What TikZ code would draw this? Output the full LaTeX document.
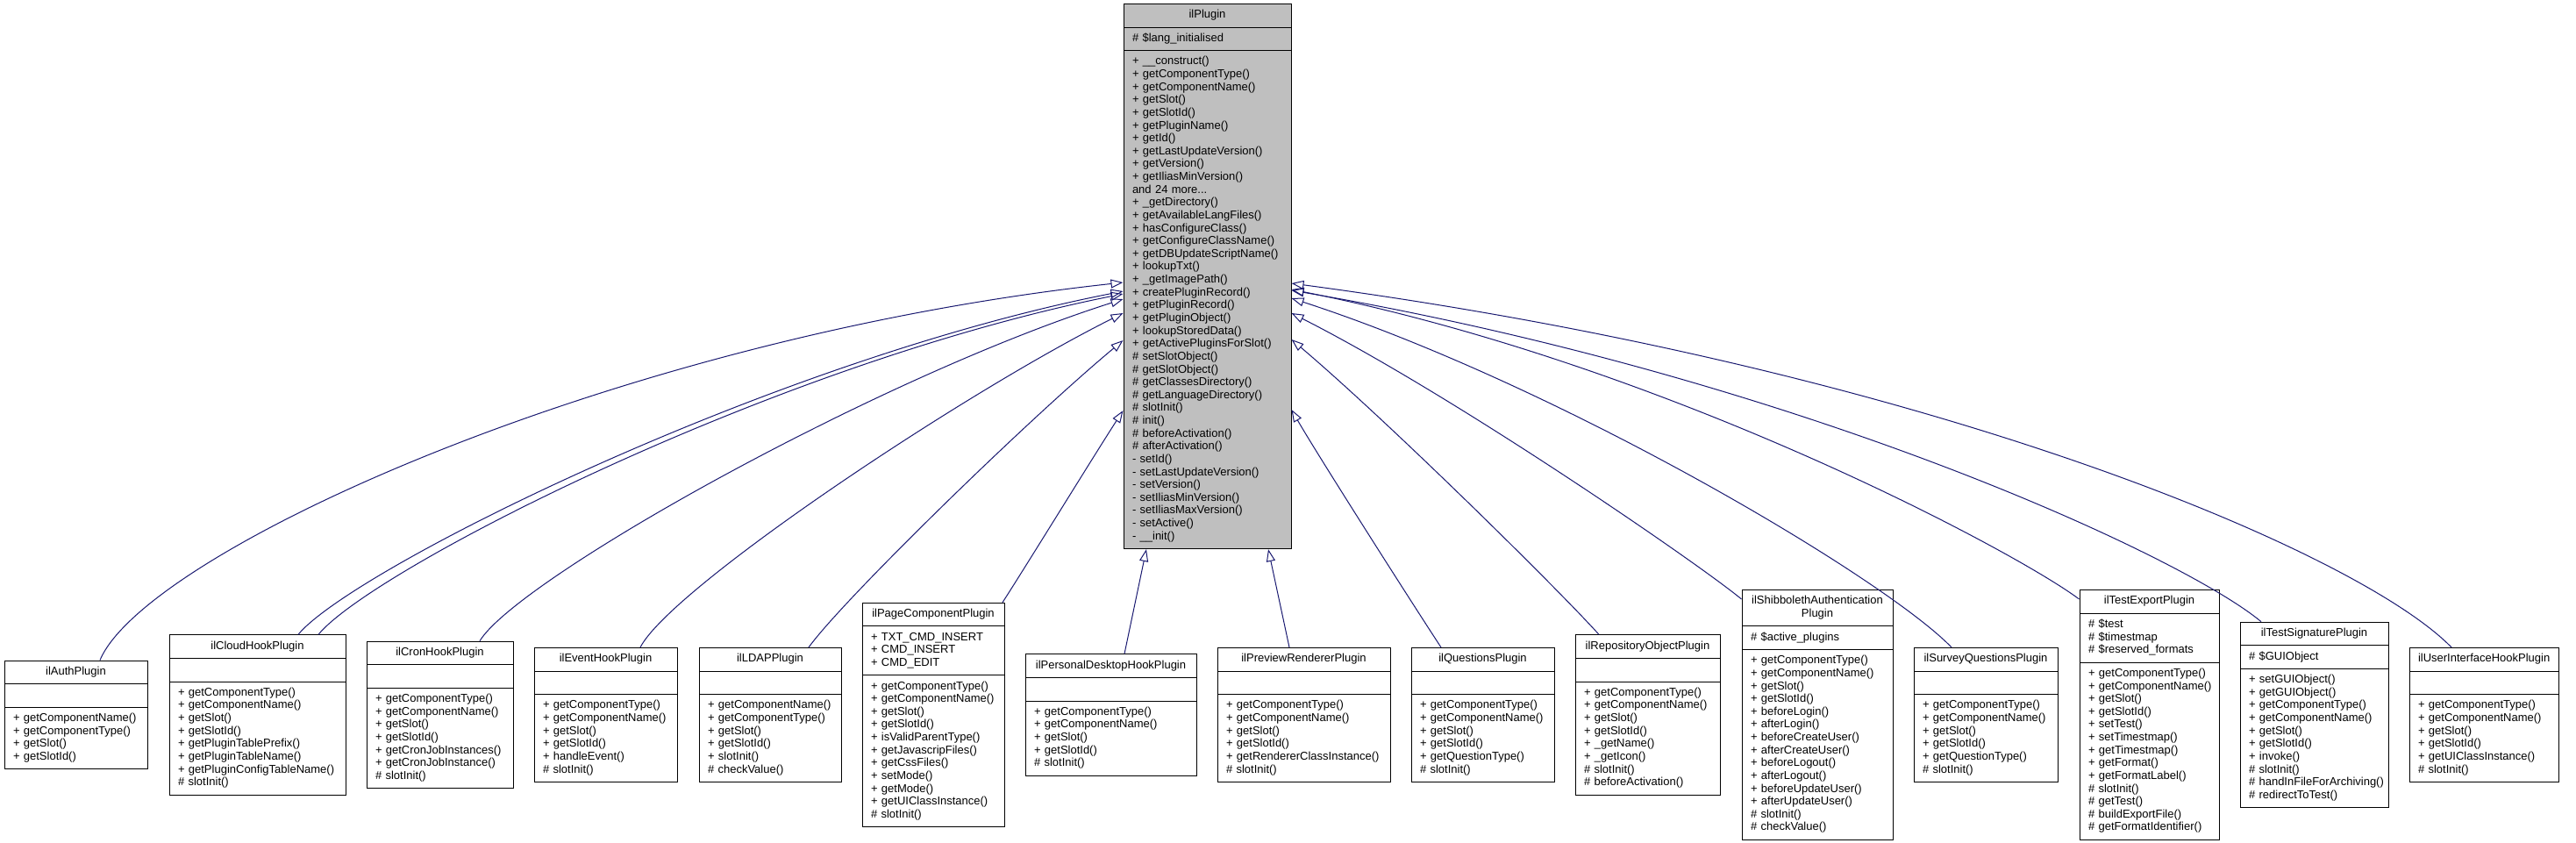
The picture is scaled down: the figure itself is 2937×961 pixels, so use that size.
\documentclass[tikz,border=0pt]{standalone}
\usepackage{fontspec}
\setmainfont{Liberation Sans}
\usetikzlibrary{shapes.multipart,arrows.meta}
\definecolor{edgeblue}{HTML}{191970}
\newcommand{\mem}[1]{\noindent\strut\mbox{#1}\par}

\begin{document}
\begin{tikzpicture}[x=1pt,y=-1pt,
	umlclass/.style={rectangle split, rectangle split parts=3, draw=black, line width=1pt, fill=white,
		inner xsep=10pt, inner ysep=5.5pt, align=left, font=\fontsize{13}{14.63}\selectfont},
	inherit/.style={draw=edgeblue, line width=1pt, -{Triangle[open,length=14pt,width=10pt]}}]
	\useasboundingbox (0,0) rectangle (2937,961);

	% base class
	\node[umlclass, text width=171pt, fill=black!25] (plugin) at (1376.5,315){\centering\mem{ilPlugin}
		\nodepart{two}\mem{\# \$lang\_initialised}
		\nodepart{three}\mem{+ \_\_construct()}\mem{+ getComponentType()}\mem{+ getComponentName()}\mem{+ getSlot()}\mem{+ getSlotId()}\mem{+ getPluginName()}\mem{+ getId()}\mem{+ getLastUpdateVersion()}\mem{+ getVersion()}\mem{+ getIliasMinVersion()}\mem{and 24 more...}\mem{+ \_getDirectory()}\mem{+ getAvailableLangFiles()}\mem{+ hasConfigureClass()}\mem{+ getConfigureClassName()}\mem{+ getDBUpdateScriptName()}\mem{+ lookupTxt()}\mem{+ \_getImagePath()}\mem{+ createPluginRecord()}\mem{+ getPluginRecord()}\mem{+ getPluginObject()}\mem{+ lookupStoredData()}\mem{+ getActivePluginsForSlot()}\mem{\# setSlotObject()}\mem{\# getSlotObject()}\mem{\# getClassesDirectory()}\mem{\# getLanguageDirectory()}\mem{\# slotInit()}\mem{\# init()}\mem{\# beforeActivation()}\mem{\# afterActivation()}\mem{- setId()}\mem{- setLastUpdateVersion()}\mem{- setVersion()}\mem{- setIliasMinVersion()}\mem{- setIliasMaxVersion()}\mem{- setActive()}\mem{- \_\_init()}};

	% derived classes
	\node[umlclass, text width=143pt] (auth) at (86.5,815){\centering\mem{ilAuthPlugin}
		\nodepart{two}\mem{}
		\nodepart{three}\mem{+ getComponentName()}\mem{+ getComponentType()}\mem{+ getSlot()}\mem{+ getSlotId()}};
	\node[umlclass, text width=181pt] (cloud) at (293.5,815){\centering\mem{ilCloudHookPlugin}
		\nodepart{two}\mem{}
		\nodepart{three}\mem{+ getComponentType()}\mem{+ getComponentName()}\mem{+ getSlot()}\mem{+ getSlotId()}\mem{+ getPluginTablePrefix()}\mem{+ getPluginTableName()}\mem{+ getPluginConfigTableName()}\mem{\# slotInit()}};
	\node[umlclass, text width=147pt] (cron) at (501.5,815){\centering\mem{ilCronHookPlugin}
		\nodepart{two}\mem{}
		\nodepart{three}\mem{+ getComponentType()}\mem{+ getComponentName()}\mem{+ getSlot()}\mem{+ getSlotId()}\mem{+ getCronJobInstances()}\mem{+ getCronJobInstance()}\mem{\# slotInit()}};
	\node[umlclass, text width=143pt] (event) at (690.5,815){\centering\mem{ilEventHookPlugin}
		\nodepart{two}\mem{}
		\nodepart{three}\mem{+ getComponentType()}\mem{+ getComponentName()}\mem{+ getSlot()}\mem{+ getSlotId()}\mem{+ handleEvent()}\mem{\# slotInit()}};
	\node[umlclass, text width=142pt] (ldap) at (878,815){\centering\mem{ilLDAPPlugin}
		\nodepart{two}\mem{}
		\nodepart{three}\mem{+ getComponentName()}\mem{+ getComponentType()}\mem{+ getSlot()}\mem{+ getSlotId()}\mem{+ slotInit()}\mem{\# checkValue()}};
	\node[umlclass, text width=142pt] (page) at (1064,815){\centering\mem{ilPageComponentPlugin}
		\nodepart{two}\mem{+ TXT\_CMD\_INSERT}\mem{+ CMD\_INSERT}\mem{+ CMD\_EDIT}
		\nodepart{three}\mem{+ getComponentType()}\mem{+ getComponentName()}\mem{+ getSlot()}\mem{+ getSlotId()}\mem{+ isValidParentType()}\mem{+ getJavascripFiles()}\mem{+ getCssFiles()}\mem{+ setMode()}\mem{+ getMode()}\mem{+ getUIClassInstance()}\mem{\# slotInit()}};
	\node[umlclass, text width=175pt] (desktop) at (1266.5,815){\centering\mem{ilPersonalDesktopHookPlugin}
		\nodepart{two}\mem{}
		\nodepart{three}\mem{+ getComponentType()}\mem{+ getComponentName()}\mem{+ getSlot()}\mem{+ getSlotId()}\mem{\# slotInit()}};
	\node[umlclass, text width=177pt] (preview) at (1486.5,815){\centering\mem{ilPreviewRendererPlugin}
		\nodepart{two}\mem{}
		\nodepart{three}\mem{+ getComponentType()}\mem{+ getComponentName()}\mem{+ getSlot()}\mem{+ getSlotId()}\mem{+ getRendererClassInstance()}\mem{\# slotInit()}};
	\node[umlclass, text width=143pt] (questions) at (1690.5,815){\centering\mem{ilQuestionsPlugin}
		\nodepart{two}\mem{}
		\nodepart{three}\mem{+ getComponentType()}\mem{+ getComponentName()}\mem{+ getSlot()}\mem{+ getSlotId()}\mem{+ getQuestionType()}\mem{\# slotInit()}};
	\node[umlclass, text width=145pt] (repo) at (1878.5,815){\centering\mem{ilRepositoryObjectPlugin}
		\nodepart{two}\mem{}
		\nodepart{three}\mem{+ getComponentType()}\mem{+ getComponentName()}\mem{+ getSlot()}\mem{+ getSlotId()}\mem{+ \_getName()}\mem{+ \_getIcon()}\mem{\# slotInit()}\mem{\# beforeActivation()}};
	\node[umlclass, text width=152pt] (shib) at (2072,815){\centering\mem{ilShibbolethAuthentication}\mem{Plugin}
		\nodepart{two}\mem{\# \$active\_plugins}
		\nodepart{three}\mem{+ getComponentType()}\mem{+ getComponentName()}\mem{+ getSlot()}\mem{+ getSlotId()}\mem{+ beforeLogin()}\mem{+ afterLogin()}\mem{+ beforeCreateUser()}\mem{+ afterCreateUser()}\mem{+ beforeLogout()}\mem{+ afterLogout()}\mem{+ beforeUpdateUser()}\mem{+ afterUpdateUser()}\mem{\# slotInit()}\mem{\# checkValue()}};
	\node[umlclass, text width=144pt] (survey) at (2264,815){\centering\mem{ilSurveyQuestionsPlugin}
		\nodepart{two}\mem{}
		\nodepart{three}\mem{+ getComponentType()}\mem{+ getComponentName()}\mem{+ getSlot()}\mem{+ getSlotId()}\mem{+ getQuestionType()}\mem{\# slotInit()}};
	\node[umlclass, text width=139pt] (export) at (2450.5,815){\centering\mem{ilTestExportPlugin}
		\nodepart{two}\mem{\# \$test}\mem{\# \$timestmap}\mem{\# \$reserved\_formats}
		\nodepart{three}\mem{+ getComponentType()}\mem{+ getComponentName()}\mem{+ getSlot()}\mem{+ getSlotId()}\mem{+ setTest()}\mem{+ setTimestmap()}\mem{+ getTimestmap()}\mem{+ getFormat()}\mem{+ getFormatLabel()}\mem{\# slotInit()}\mem{\# getTest()}\mem{\# buildExportFile()}\mem{\# getFormatIdentifier()}};
	\node[umlclass, text width=149pt] (signature) at (2638.5,815){\centering\mem{ilTestSignaturePlugin}
		\nodepart{two}\mem{\# \$GUIObject}
		\nodepart{three}\mem{+ setGUIObject()}\mem{+ getGUIObject()}\mem{+ getComponentType()}\mem{+ getComponentName()}\mem{+ getSlot()}\mem{+ getSlotId()}\mem{+ invoke()}\mem{\# slotInit()}\mem{\# handInFileForArchiving()}\mem{\# redirectToTest()}};
	\node[umlclass, text width=150pt] (uihook) at (2832,815){\centering\mem{ilUserInterfaceHookPlugin}
		\nodepart{two}\mem{}
		\nodepart{three}\mem{+ getComponentType()}\mem{+ getComponentName()}\mem{+ getSlot()}\mem{+ getSlotId()}\mem{+ getUIClassInstance()}\mem{\# slotInit()}};

	% inheritance
	\draw[inherit] (auth.north -| 114,0) .. controls (165,630) and (700,385) .. (plugin.west |- 0,322);
	\draw[inherit] (cloud.north -| 340,0) .. controls (400,650) and (881,410) .. (plugin.west |- 0,332);
	\draw[inherit] (cloud.north -| 363,0) .. controls (423,650) and (881,415) .. (plugin.west |- 0,335);
	\draw[inherit] (cron.north -| 547,0) .. controls (590,660) and (1000,430) .. (plugin.west |- 0,341);
	\draw[inherit] (event.north -| 730,0) .. controls (765,670) and (1100,447) .. (plugin.west |- 0,357);
	\draw[inherit] (ldap.north -| 922,0) .. controls (960,685) and (1170,480) .. (plugin.west |- 0,388);
	\draw[inherit] (page.north -| 1143,0) .. controls (1170,645) and (1250,515) .. (plugin.west |- 0,468);
	\draw[inherit] (desktop.north -| 1282,0) -- (plugin.south -| 1307,0);
	\draw[inherit] (preview.north -| 1470,0) -- (plugin.south -| 1446,0);
	\draw[inherit] (questions.north -| 1643,0) .. controls (1605,680) and (1500,515) .. (plugin.east |- 0,467);
	\draw[inherit] (repo.north -| 1823,0) .. controls (1775,670) and (1580,478) .. (plugin.east |- 0,387);
	\draw[inherit] (shib.west |- 0,683) .. controls (1940,645) and (1660,452) .. (plugin.east |- 0,357);
	\draw[inherit] (survey.north -| 2225,0) .. controls (2150,660) and (1780,440) .. (plugin.east |- 0,340);
	\draw[inherit] (export.west |- 0,683) .. controls (2300,630) and (1900,415) .. (plugin.east |- 0,330);
	\draw[inherit] (signature.north -| 2578,0) .. controls (2490,635) and (2050,430) .. (plugin.east |- 0,331);
	\draw[inherit] (uihook.north -| 2795,0) .. controls (2690,630) and (2200,420) .. (plugin.east |- 0,323);
\end{tikzpicture}
\end{document}
